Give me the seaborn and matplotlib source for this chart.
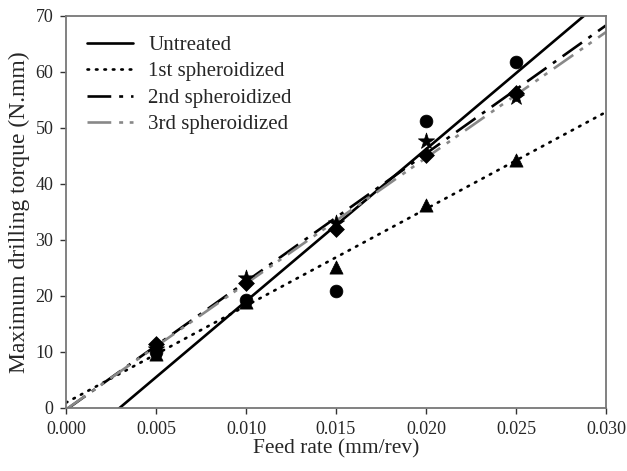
import matplotlib
matplotlib.use("Agg")
import matplotlib.pyplot as plt
import seaborn as sns
import numpy as np
import pandas as pd

feed = [0.005, 0.010, 0.015, 0.020, 0.025]
untreated = [10.0, 19.2, 20.9, 51.3, 61.8]
sph1 = [9.7, 19.0, 25.2, 36.3, 44.3]
sph2 = [10.5, 23.3, 33.0, 47.7, 55.5]
sph3 = [11.5, 22.3, 32.0, 45.2, 56.2]
labels = ["Untreated", "1st spheroidized", "2nd spheroidized", "3rd spheroidized"]
xticks = [0.000, 0.005, 0.010, 0.015, 0.020, 0.025, 0.030]
yticks = [0, 10, 20, 30, 40, 50, 60, 70]

sns.set_style("white")
plt.rcParams['font.family'] = ['Liberation Serif', 'DejaVu Serif']

fig = plt.figure(figsize=(6.27, 4.71), dpi=100)
ax = fig.add_axes([66/627, 1-408/471, (606-66)/627, (408-16)/471])
ax.set_xlim(0, 0.030)
ax.set_ylim(0, 70)

series = [untreated, sph1, sph2, sph3]
markers = ["o", "^", "*", "D"]
msizes = [85, 90, 150, 65]
colors = ["black", "black", "black", "#888888"]
styles = ["-", (0, (0.6, 2.6)), (0, (9, 3, 1.5, 3)), (0, (9, 3, 1.5, 2.5, 1.5, 3))]
caps = ["butt", "round", "butt", "butt"]

for vals, lab, c, ls, cap in zip(series, labels, colors, styles, caps):
    df = pd.DataFrame({"x": feed, "y": vals})
    sns.regplot(data=df, x="x", y="y", ax=ax, ci=None, truncate=False,
                scatter=False, label=lab,
                line_kws=dict(color=c, linestyle=ls, linewidth=1.9,
                              dash_capstyle=cap))

for vals, m, ms in zip(series, markers, msizes):
    df = pd.DataFrame({"x": feed, "y": vals})
    sns.scatterplot(data=df, x="x", y="y", ax=ax, marker=m, s=ms, color="black",
                    edgecolor="black", linewidth=0.5, zorder=5, legend=False)

ax.set_xlim(0, 0.030)
ax.set_ylim(0, 70)
ax.set_xticks(xticks)
ax.set_xticklabels([f"{t:.3f}" for t in xticks])
ax.set_yticks(yticks)
ax.tick_params(direction="out", length=4, width=1, color="#333333", labelsize=13,
               bottom=True, left=True, pad=5)
for sp in ax.spines.values():
    sp.set_color("#777777")
    sp.set_linewidth(1.3)
ax.set_xlabel("Feed rate (mm/rev)", fontsize=15.5, labelpad=1)
ax.set_ylabel("Maximum drilling torque (N.mm)", fontsize=17, labelpad=4)

ax.legend(loc="upper left", frameon=False, fontsize=15, handlelength=2.2,
          handletextpad=0.75, labelspacing=0.33, borderaxespad=0,
          borderpad=0.4, bbox_to_anchor=(0.0235, 0.972))

fig.savefig("out.png", dpi=100)
